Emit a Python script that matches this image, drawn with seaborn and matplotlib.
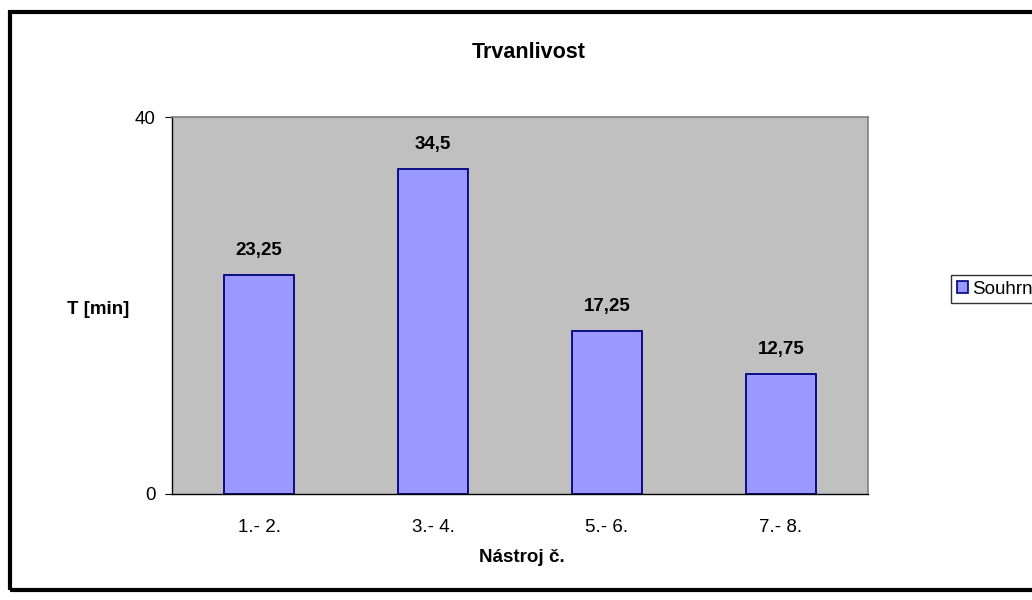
import numpy as np
import pandas as pd
import matplotlib
matplotlib.use("Agg")
import matplotlib.pyplot as plt
import seaborn as sns
from matplotlib.patches import Patch, Rectangle

categories = ["1.- 2.", "3.- 4.", "5.- 6.", "7.- 8."]
values = [23.25, 34.5, 17.25, 12.75]
value_labels = ["23,25", "34,5", "17,25", "12,75"]
series_name = "Souhrn"

sns.set_style("white")
plt.rcParams['font.family'] = ['Liberation Sans', 'DejaVu Sans']
plt.rcParams['text.color'] = 'black'
plt.rcParams['xtick.color'] = 'black'
plt.rcParams['ytick.color'] = 'black'

df = pd.DataFrame({"cat": categories, "val": values})

fig = plt.figure(figsize=(10.32, 6), dpi=100)
ax = fig.add_axes([172/1032, 1 - 494/600, (868-172)/1032, (494-117)/600])
ax.set_facecolor("#C0C0C0")

sns.barplot(data=df, x="cat", y="val", color="#9999FF", edgecolor="#000080",
            linewidth=1.3, width=0.405, saturation=1, ax=ax)

ax.set_xlim(-0.5, 3.5)
ax.set_ylim(0, 40)
ax.set_yticks([0, 40])
ax.set_yticklabels(["0", "40"], fontsize=13.5)
ax.set_xticks(range(len(categories)))
ax.set_xticklabels(categories, fontsize=13.5)
ax.set_xticks(np.arange(-0.5, 4, 1), minor=True)
ax.tick_params(axis="x", which="major", length=0, pad=18)
ax.tick_params(axis="x", which="minor", length=5, width=0.8, color="black", direction="out")
ax.tick_params(axis="y", length=5, width=0.8, color="black", direction="out", left=True, pad=7)

for s in ["left", "bottom"]:
    ax.spines[s].set_color("black")
    ax.spines[s].set_linewidth(1)
for s in ["top", "right"]:
    ax.spines[s].set_color("#808080")
    ax.spines[s].set_linewidth(1.2)

for bar, lab in zip(ax.patches, value_labels):
    ax.annotate(lab, (bar.get_x() + bar.get_width()/2, bar.get_height()),
                xytext=(0, 11.5), textcoords="offset points", ha="center", va="bottom",
                fontsize=13.5, fontweight="bold")

ax.set_xlabel("")
ax.set_ylabel("")
fig.text(522/1032, 1 - 558/600, "Nástroj č.", fontsize=13.5, fontweight="bold", ha="center", va="center")
fig.text(98/1032, 1 - 309/600, "T [min]", fontsize=13.5, fontweight="bold", ha="center", va="center")
fig.text(529/1032, 1 - 52/600, "Trvanlivost", fontsize=15.5, fontweight="bold", ha="center", va="center")

handle = Patch(facecolor="#9999FF", edgecolor="#000080", linewidth=1.2)
leg = fig.legend([handle], [series_name], loc="center left",
                 bbox_to_anchor=(951/1032, 1 - 289/600), fontsize=13.5,
                 frameon=True, fancybox=False, edgecolor="black",
                 handlelength=0.6, handleheight=0.6, handletextpad=0.25,
                 borderpad=0.3, borderaxespad=0)
leg.get_frame().set_linewidth(1)

fig.patches.append(Rectangle((10/1032, 1 - 590/600), 1.2, (590-12)/600,
                             transform=fig.transFigure, fill=False,
                             edgecolor="black", linewidth=3, clip_on=False))

fig.savefig("out.png", dpi=100, facecolor="white")
